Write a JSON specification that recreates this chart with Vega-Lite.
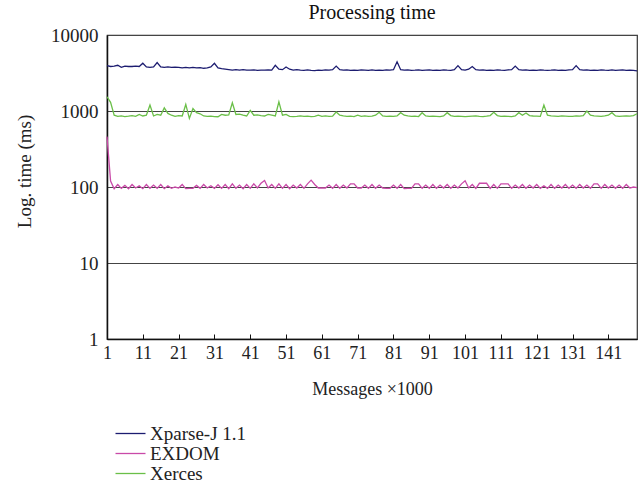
{
"$schema":"https://vega.github.io/schema/vega-lite/v6.json",
"autosize":{"type":"none"},
"width":530,"height":304,
"padding":{"left":107,"top":35,"right":4,"bottom":160},
"background":"white",
"config":{"font":"Liberation Serif","view":{"stroke":"#333","strokeWidth":1.2}},
"title":{"text":"Processing time","fontSize":20,"fontWeight":"normal","font":"Liberation Serif","color":"#111","offset":3,"anchor":"middle"},
"data":{"values":[
{"msg":1,"series":"Xparse-J 1.1","time":3950},{"msg":2,"series":"Xparse-J 1.1","time":3850},{"msg":3,"series":"Xparse-J 1.1","time":3900},{"msg":4,"series":"Xparse-J 1.1","time":4000},{"msg":5,"series":"Xparse-J 1.1","time":3750},{"msg":6,"series":"Xparse-J 1.1","time":3900},{"msg":7,"series":"Xparse-J 1.1","time":3850},{"msg":8,"series":"Xparse-J 1.1","time":3850},{"msg":9,"series":"Xparse-J 1.1","time":3900},{"msg":10,"series":"Xparse-J 1.1","time":3850},
{"msg":11,"series":"Xparse-J 1.1","time":4250},{"msg":12,"series":"Xparse-J 1.1","time":3800},{"msg":13,"series":"Xparse-J 1.1","time":3750},{"msg":14,"series":"Xparse-J 1.1","time":3800},{"msg":15,"series":"Xparse-J 1.1","time":4350},{"msg":16,"series":"Xparse-J 1.1","time":3800},{"msg":17,"series":"Xparse-J 1.1","time":3750},{"msg":18,"series":"Xparse-J 1.1","time":3800},{"msg":19,"series":"Xparse-J 1.1","time":3750},{"msg":20,"series":"Xparse-J 1.1","time":3780},
{"msg":21,"series":"Xparse-J 1.1","time":3750},{"msg":22,"series":"Xparse-J 1.1","time":3700},{"msg":23,"series":"Xparse-J 1.1","time":3750},{"msg":24,"series":"Xparse-J 1.1","time":3700},{"msg":25,"series":"Xparse-J 1.1","time":3750},{"msg":26,"series":"Xparse-J 1.1","time":3700},{"msg":27,"series":"Xparse-J 1.1","time":3720},{"msg":28,"series":"Xparse-J 1.1","time":3650},{"msg":29,"series":"Xparse-J 1.1","time":3700},{"msg":30,"series":"Xparse-J 1.1","time":3800},
{"msg":31,"series":"Xparse-J 1.1","time":4250},{"msg":32,"series":"Xparse-J 1.1","time":3700},{"msg":33,"series":"Xparse-J 1.1","time":3600},{"msg":34,"series":"Xparse-J 1.1","time":3550},{"msg":35,"series":"Xparse-J 1.1","time":3500},{"msg":36,"series":"Xparse-J 1.1","time":3450},{"msg":37,"series":"Xparse-J 1.1","time":3500},{"msg":38,"series":"Xparse-J 1.1","time":3450},{"msg":39,"series":"Xparse-J 1.1","time":3500},{"msg":40,"series":"Xparse-J 1.1","time":3450},
{"msg":41,"series":"Xparse-J 1.1","time":3450},{"msg":42,"series":"Xparse-J 1.1","time":3480},{"msg":43,"series":"Xparse-J 1.1","time":3430},{"msg":44,"series":"Xparse-J 1.1","time":3450},{"msg":45,"series":"Xparse-J 1.1","time":3450},{"msg":46,"series":"Xparse-J 1.1","time":3480},{"msg":47,"series":"Xparse-J 1.1","time":3450},{"msg":48,"series":"Xparse-J 1.1","time":4000},{"msg":49,"series":"Xparse-J 1.1","time":3550},{"msg":50,"series":"Xparse-J 1.1","time":3500},
{"msg":51,"series":"Xparse-J 1.1","time":3800},{"msg":52,"series":"Xparse-J 1.1","time":3550},{"msg":53,"series":"Xparse-J 1.1","time":3450},{"msg":54,"series":"Xparse-J 1.1","time":3500},{"msg":55,"series":"Xparse-J 1.1","time":3450},{"msg":56,"series":"Xparse-J 1.1","time":3420},{"msg":57,"series":"Xparse-J 1.1","time":3480},{"msg":58,"series":"Xparse-J 1.1","time":3430},{"msg":59,"series":"Xparse-J 1.1","time":3400},{"msg":60,"series":"Xparse-J 1.1","time":3450},
{"msg":61,"series":"Xparse-J 1.1","time":3420},{"msg":62,"series":"Xparse-J 1.1","time":3480},{"msg":63,"series":"Xparse-J 1.1","time":3450},{"msg":64,"series":"Xparse-J 1.1","time":3500},{"msg":65,"series":"Xparse-J 1.1","time":3900},{"msg":66,"series":"Xparse-J 1.1","time":3500},{"msg":67,"series":"Xparse-J 1.1","time":3450},{"msg":68,"series":"Xparse-J 1.1","time":3480},{"msg":69,"series":"Xparse-J 1.1","time":3430},{"msg":70,"series":"Xparse-J 1.1","time":3450},
{"msg":71,"series":"Xparse-J 1.1","time":3420},{"msg":72,"series":"Xparse-J 1.1","time":3480},{"msg":73,"series":"Xparse-J 1.1","time":3450},{"msg":74,"series":"Xparse-J 1.1","time":3420},{"msg":75,"series":"Xparse-J 1.1","time":3480},{"msg":76,"series":"Xparse-J 1.1","time":3430},{"msg":77,"series":"Xparse-J 1.1","time":3450},{"msg":78,"series":"Xparse-J 1.1","time":3420},{"msg":79,"series":"Xparse-J 1.1","time":3480},{"msg":80,"series":"Xparse-J 1.1","time":3450},
{"msg":81,"series":"Xparse-J 1.1","time":3500},{"msg":82,"series":"Xparse-J 1.1","time":4450},{"msg":83,"series":"Xparse-J 1.1","time":3500},{"msg":84,"series":"Xparse-J 1.1","time":3450},{"msg":85,"series":"Xparse-J 1.1","time":3480},{"msg":86,"series":"Xparse-J 1.1","time":3430},{"msg":87,"series":"Xparse-J 1.1","time":3450},{"msg":88,"series":"Xparse-J 1.1","time":3480},{"msg":89,"series":"Xparse-J 1.1","time":3420},{"msg":90,"series":"Xparse-J 1.1","time":3450},
{"msg":91,"series":"Xparse-J 1.1","time":3480},{"msg":92,"series":"Xparse-J 1.1","time":3430},{"msg":93,"series":"Xparse-J 1.1","time":3450},{"msg":94,"series":"Xparse-J 1.1","time":3420},{"msg":95,"series":"Xparse-J 1.1","time":3480},{"msg":96,"series":"Xparse-J 1.1","time":3450},{"msg":97,"series":"Xparse-J 1.1","time":3430},{"msg":98,"series":"Xparse-J 1.1","time":3500},{"msg":99,"series":"Xparse-J 1.1","time":3950},{"msg":100,"series":"Xparse-J 1.1","time":3500},
{"msg":101,"series":"Xparse-J 1.1","time":3450},{"msg":102,"series":"Xparse-J 1.1","time":3550},{"msg":103,"series":"Xparse-J 1.1","time":3850},{"msg":104,"series":"Xparse-J 1.1","time":3500},{"msg":105,"series":"Xparse-J 1.1","time":3450},{"msg":106,"series":"Xparse-J 1.1","time":3480},{"msg":107,"series":"Xparse-J 1.1","time":3430},{"msg":108,"series":"Xparse-J 1.1","time":3450},{"msg":109,"series":"Xparse-J 1.1","time":3420},{"msg":110,"series":"Xparse-J 1.1","time":3480},
{"msg":111,"series":"Xparse-J 1.1","time":3450},{"msg":112,"series":"Xparse-J 1.1","time":3430},{"msg":113,"series":"Xparse-J 1.1","time":3480},{"msg":114,"series":"Xparse-J 1.1","time":3500},{"msg":115,"series":"Xparse-J 1.1","time":3900},{"msg":116,"series":"Xparse-J 1.1","time":3500},{"msg":117,"series":"Xparse-J 1.1","time":3450},{"msg":118,"series":"Xparse-J 1.1","time":3480},{"msg":119,"series":"Xparse-J 1.1","time":3430},{"msg":120,"series":"Xparse-J 1.1","time":3450},
{"msg":121,"series":"Xparse-J 1.1","time":3420},{"msg":122,"series":"Xparse-J 1.1","time":3480},{"msg":123,"series":"Xparse-J 1.1","time":3450},{"msg":124,"series":"Xparse-J 1.1","time":3430},{"msg":125,"series":"Xparse-J 1.1","time":3450},{"msg":126,"series":"Xparse-J 1.1","time":3480},{"msg":127,"series":"Xparse-J 1.1","time":3420},{"msg":128,"series":"Xparse-J 1.1","time":3450},{"msg":129,"series":"Xparse-J 1.1","time":3430},{"msg":130,"series":"Xparse-J 1.1","time":3480},
{"msg":131,"series":"Xparse-J 1.1","time":3500},{"msg":132,"series":"Xparse-J 1.1","time":3950},{"msg":133,"series":"Xparse-J 1.1","time":3500},{"msg":134,"series":"Xparse-J 1.1","time":3450},{"msg":135,"series":"Xparse-J 1.1","time":3480},{"msg":136,"series":"Xparse-J 1.1","time":3430},{"msg":137,"series":"Xparse-J 1.1","time":3450},{"msg":138,"series":"Xparse-J 1.1","time":3420},{"msg":139,"series":"Xparse-J 1.1","time":3480},{"msg":140,"series":"Xparse-J 1.1","time":3450},
{"msg":141,"series":"Xparse-J 1.1","time":3430},{"msg":142,"series":"Xparse-J 1.1","time":3480},{"msg":143,"series":"Xparse-J 1.1","time":3420},{"msg":144,"series":"Xparse-J 1.1","time":3450},{"msg":145,"series":"Xparse-J 1.1","time":3480},{"msg":146,"series":"Xparse-J 1.1","time":3430},{"msg":147,"series":"Xparse-J 1.1","time":3450},{"msg":148,"series":"Xparse-J 1.1","time":3420},{"msg":149,"series":"Xparse-J 1.1","time":3380},
{"msg":1,"series":"EXDOM","time":460},{"msg":2,"series":"EXDOM","time":120},{"msg":3,"series":"EXDOM","time":95},{"msg":4,"series":"EXDOM","time":108},{"msg":5,"series":"EXDOM","time":96},{"msg":6,"series":"EXDOM","time":105},{"msg":7,"series":"EXDOM","time":95},{"msg":8,"series":"EXDOM","time":108},{"msg":9,"series":"EXDOM","time":97},{"msg":10,"series":"EXDOM","time":104},
{"msg":11,"series":"EXDOM","time":95},{"msg":12,"series":"EXDOM","time":108},{"msg":13,"series":"EXDOM","time":96},{"msg":14,"series":"EXDOM","time":106},{"msg":15,"series":"EXDOM","time":96},{"msg":16,"series":"EXDOM","time":108},{"msg":17,"series":"EXDOM","time":95},{"msg":18,"series":"EXDOM","time":104},{"msg":19,"series":"EXDOM","time":96},{"msg":20,"series":"EXDOM","time":100},
{"msg":21,"series":"EXDOM","time":97},{"msg":22,"series":"EXDOM","time":108},{"msg":23,"series":"EXDOM","time":95},{"msg":24,"series":"EXDOM","time":96},{"msg":25,"series":"EXDOM","time":96},{"msg":26,"series":"EXDOM","time":105},{"msg":27,"series":"EXDOM","time":96},{"msg":28,"series":"EXDOM","time":108},{"msg":29,"series":"EXDOM","time":97},{"msg":30,"series":"EXDOM","time":104},
{"msg":31,"series":"EXDOM","time":96},{"msg":32,"series":"EXDOM","time":107},{"msg":33,"series":"EXDOM","time":96},{"msg":34,"series":"EXDOM","time":108},{"msg":35,"series":"EXDOM","time":95},{"msg":36,"series":"EXDOM","time":110},{"msg":37,"series":"EXDOM","time":96},{"msg":38,"series":"EXDOM","time":106},{"msg":39,"series":"EXDOM","time":95},{"msg":40,"series":"EXDOM","time":108},
{"msg":41,"series":"EXDOM","time":96},{"msg":42,"series":"EXDOM","time":110},{"msg":43,"series":"EXDOM","time":97},{"msg":44,"series":"EXDOM","time":112},{"msg":45,"series":"EXDOM","time":122},{"msg":46,"series":"EXDOM","time":97},{"msg":47,"series":"EXDOM","time":108},{"msg":48,"series":"EXDOM","time":96},{"msg":49,"series":"EXDOM","time":110},{"msg":50,"series":"EXDOM","time":96},
{"msg":51,"series":"EXDOM","time":108},{"msg":52,"series":"EXDOM","time":95},{"msg":53,"series":"EXDOM","time":106},{"msg":54,"series":"EXDOM","time":97},{"msg":55,"series":"EXDOM","time":108},{"msg":56,"series":"EXDOM","time":96},{"msg":57,"series":"EXDOM","time":110},{"msg":58,"series":"EXDOM","time":123},{"msg":59,"series":"EXDOM","time":108},{"msg":60,"series":"EXDOM","time":97},
{"msg":61,"series":"EXDOM","time":97},{"msg":62,"series":"EXDOM","time":97},{"msg":63,"series":"EXDOM","time":106},{"msg":64,"series":"EXDOM","time":96},{"msg":65,"series":"EXDOM","time":108},{"msg":66,"series":"EXDOM","time":96},{"msg":67,"series":"EXDOM","time":106},{"msg":68,"series":"EXDOM","time":97},{"msg":69,"series":"EXDOM","time":110},{"msg":70,"series":"EXDOM","time":110},
{"msg":71,"series":"EXDOM","time":97},{"msg":72,"series":"EXDOM","time":97},{"msg":73,"series":"EXDOM","time":106},{"msg":74,"series":"EXDOM","time":96},{"msg":75,"series":"EXDOM","time":108},{"msg":76,"series":"EXDOM","time":96},{"msg":77,"series":"EXDOM","time":106},{"msg":78,"series":"EXDOM","time":97},{"msg":79,"series":"EXDOM","time":96},{"msg":80,"series":"EXDOM","time":96},
{"msg":81,"series":"EXDOM","time":106},{"msg":82,"series":"EXDOM","time":96},{"msg":83,"series":"EXDOM","time":108},{"msg":84,"series":"EXDOM","time":95},{"msg":85,"series":"EXDOM","time":96},{"msg":86,"series":"EXDOM","time":96},{"msg":87,"series":"EXDOM","time":110},{"msg":88,"series":"EXDOM","time":110},{"msg":89,"series":"EXDOM","time":96},{"msg":90,"series":"EXDOM","time":106},
{"msg":91,"series":"EXDOM","time":96},{"msg":92,"series":"EXDOM","time":108},{"msg":93,"series":"EXDOM","time":96},{"msg":94,"series":"EXDOM","time":106},{"msg":95,"series":"EXDOM","time":97},{"msg":96,"series":"EXDOM","time":108},{"msg":97,"series":"EXDOM","time":96},{"msg":98,"series":"EXDOM","time":106},{"msg":99,"series":"EXDOM","time":97},{"msg":100,"series":"EXDOM","time":110},
{"msg":101,"series":"EXDOM","time":121},{"msg":102,"series":"EXDOM","time":97},{"msg":103,"series":"EXDOM","time":108},{"msg":104,"series":"EXDOM","time":96},{"msg":105,"series":"EXDOM","time":112},{"msg":106,"series":"EXDOM","time":112},{"msg":107,"series":"EXDOM","time":112},{"msg":108,"series":"EXDOM","time":96},{"msg":109,"series":"EXDOM","time":108},{"msg":110,"series":"EXDOM","time":96},
{"msg":111,"series":"EXDOM","time":110},{"msg":112,"series":"EXDOM","time":110},{"msg":113,"series":"EXDOM","time":110},{"msg":114,"series":"EXDOM","time":96},{"msg":115,"series":"EXDOM","time":106},{"msg":116,"series":"EXDOM","time":97},{"msg":117,"series":"EXDOM","time":108},{"msg":118,"series":"EXDOM","time":96},{"msg":119,"series":"EXDOM","time":106},{"msg":120,"series":"EXDOM","time":97},
{"msg":121,"series":"EXDOM","time":108},{"msg":122,"series":"EXDOM","time":96},{"msg":123,"series":"EXDOM","time":104},{"msg":124,"series":"EXDOM","time":96},{"msg":125,"series":"EXDOM","time":108},{"msg":126,"series":"EXDOM","time":96},{"msg":127,"series":"EXDOM","time":106},{"msg":128,"series":"EXDOM","time":97},{"msg":129,"series":"EXDOM","time":108},{"msg":130,"series":"EXDOM","time":96},
{"msg":131,"series":"EXDOM","time":106},{"msg":132,"series":"EXDOM","time":96},{"msg":133,"series":"EXDOM","time":108},{"msg":134,"series":"EXDOM","time":97},{"msg":135,"series":"EXDOM","time":106},{"msg":136,"series":"EXDOM","time":96},{"msg":137,"series":"EXDOM","time":110},{"msg":138,"series":"EXDOM","time":110},{"msg":139,"series":"EXDOM","time":96},{"msg":140,"series":"EXDOM","time":108},
{"msg":141,"series":"EXDOM","time":97},{"msg":142,"series":"EXDOM","time":106},{"msg":143,"series":"EXDOM","time":96},{"msg":144,"series":"EXDOM","time":106},{"msg":145,"series":"EXDOM","time":96},{"msg":146,"series":"EXDOM","time":108},{"msg":147,"series":"EXDOM","time":97},{"msg":148,"series":"EXDOM","time":100},{"msg":149,"series":"EXDOM","time":98},
{"msg":1,"series":"Xerces","time":1540},{"msg":2,"series":"Xerces","time":1300},{"msg":3,"series":"Xerces","time":880},{"msg":4,"series":"Xerces","time":850},{"msg":5,"series":"Xerces","time":860},{"msg":6,"series":"Xerces","time":845},{"msg":7,"series":"Xerces","time":855},{"msg":8,"series":"Xerces","time":870},{"msg":9,"series":"Xerces","time":850},{"msg":10,"series":"Xerces","time":900},
{"msg":11,"series":"Xerces","time":860},{"msg":12,"series":"Xerces","time":880},{"msg":13,"series":"Xerces","time":1200},{"msg":14,"series":"Xerces","time":860},{"msg":15,"series":"Xerces","time":900},{"msg":16,"series":"Xerces","time":880},{"msg":17,"series":"Xerces","time":1100},{"msg":18,"series":"Xerces","time":930},{"msg":19,"series":"Xerces","time":880},{"msg":20,"series":"Xerces","time":850},
{"msg":21,"series":"Xerces","time":870},{"msg":22,"series":"Xerces","time":860},{"msg":23,"series":"Xerces","time":1220},{"msg":24,"series":"Xerces","time":800},{"msg":25,"series":"Xerces","time":1080},{"msg":26,"series":"Xerces","time":950},{"msg":27,"series":"Xerces","time":920},{"msg":28,"series":"Xerces","time":860},{"msg":29,"series":"Xerces","time":850},{"msg":30,"series":"Xerces","time":855},
{"msg":31,"series":"Xerces","time":845},{"msg":32,"series":"Xerces","time":840},{"msg":33,"series":"Xerces","time":900},{"msg":34,"series":"Xerces","time":880},{"msg":35,"series":"Xerces","time":890},{"msg":36,"series":"Xerces","time":1280},{"msg":37,"series":"Xerces","time":900},{"msg":38,"series":"Xerces","time":910},{"msg":39,"series":"Xerces","time":880},{"msg":40,"series":"Xerces","time":860},
{"msg":41,"series":"Xerces","time":1020},{"msg":42,"series":"Xerces","time":880},{"msg":43,"series":"Xerces","time":890},{"msg":44,"series":"Xerces","time":870},{"msg":45,"series":"Xerces","time":860},{"msg":46,"series":"Xerces","time":900},{"msg":47,"series":"Xerces","time":880},{"msg":48,"series":"Xerces","time":860},{"msg":49,"series":"Xerces","time":1320},{"msg":50,"series":"Xerces","time":880},
{"msg":51,"series":"Xerces","time":900},{"msg":52,"series":"Xerces","time":850},{"msg":53,"series":"Xerces","time":845},{"msg":54,"series":"Xerces","time":850},{"msg":55,"series":"Xerces","time":860},{"msg":56,"series":"Xerces","time":850},{"msg":57,"series":"Xerces","time":855},{"msg":58,"series":"Xerces","time":845},{"msg":59,"series":"Xerces","time":850},{"msg":60,"series":"Xerces","time":880},
{"msg":61,"series":"Xerces","time":850},{"msg":62,"series":"Xerces","time":860},{"msg":63,"series":"Xerces","time":850},{"msg":64,"series":"Xerces","time":855},{"msg":65,"series":"Xerces","time":970},{"msg":66,"series":"Xerces","time":880},{"msg":67,"series":"Xerces","time":860},{"msg":68,"series":"Xerces","time":850},{"msg":69,"series":"Xerces","time":855},{"msg":70,"series":"Xerces","time":845},
{"msg":71,"series":"Xerces","time":880},{"msg":72,"series":"Xerces","time":850},{"msg":73,"series":"Xerces","time":860},{"msg":74,"series":"Xerces","time":850},{"msg":75,"series":"Xerces","time":855},{"msg":76,"series":"Xerces","time":880},{"msg":77,"series":"Xerces","time":960},{"msg":78,"series":"Xerces","time":860},{"msg":79,"series":"Xerces","time":850},{"msg":80,"series":"Xerces","time":855},
{"msg":81,"series":"Xerces","time":850},{"msg":82,"series":"Xerces","time":860},{"msg":83,"series":"Xerces","time":950},{"msg":84,"series":"Xerces","time":880},{"msg":85,"series":"Xerces","time":860},{"msg":86,"series":"Xerces","time":850},{"msg":87,"series":"Xerces","time":855},{"msg":88,"series":"Xerces","time":845},{"msg":89,"series":"Xerces","time":950},{"msg":90,"series":"Xerces","time":860},
{"msg":91,"series":"Xerces","time":850},{"msg":92,"series":"Xerces","time":855},{"msg":93,"series":"Xerces","time":850},{"msg":94,"series":"Xerces","time":845},{"msg":95,"series":"Xerces","time":860},{"msg":96,"series":"Xerces","time":950},{"msg":97,"series":"Xerces","time":870},{"msg":98,"series":"Xerces","time":850},{"msg":99,"series":"Xerces","time":855},{"msg":100,"series":"Xerces","time":850},
{"msg":101,"series":"Xerces","time":845},{"msg":102,"series":"Xerces","time":850},{"msg":103,"series":"Xerces","time":855},{"msg":104,"series":"Xerces","time":860},{"msg":105,"series":"Xerces","time":850},{"msg":106,"series":"Xerces","time":845},{"msg":107,"series":"Xerces","time":855},{"msg":108,"series":"Xerces","time":870},{"msg":109,"series":"Xerces","time":960},{"msg":110,"series":"Xerces","time":870},
{"msg":111,"series":"Xerces","time":850},{"msg":112,"series":"Xerces","time":855},{"msg":113,"series":"Xerces","time":850},{"msg":114,"series":"Xerces","time":845},{"msg":115,"series":"Xerces","time":860},{"msg":116,"series":"Xerces","time":950},{"msg":117,"series":"Xerces","time":880},{"msg":118,"series":"Xerces","time":940},{"msg":119,"series":"Xerces","time":870},{"msg":120,"series":"Xerces","time":860},
{"msg":121,"series":"Xerces","time":855},{"msg":122,"series":"Xerces","time":850},{"msg":123,"series":"Xerces","time":1200},{"msg":124,"series":"Xerces","time":880},{"msg":125,"series":"Xerces","time":860},{"msg":126,"series":"Xerces","time":855},{"msg":127,"series":"Xerces","time":850},{"msg":128,"series":"Xerces","time":860},{"msg":129,"series":"Xerces","time":855},{"msg":130,"series":"Xerces","time":850},
{"msg":131,"series":"Xerces","time":850},{"msg":132,"series":"Xerces","time":860},{"msg":133,"series":"Xerces","time":855},{"msg":134,"series":"Xerces","time":870},{"msg":135,"series":"Xerces","time":1000},{"msg":136,"series":"Xerces","time":880},{"msg":137,"series":"Xerces","time":860},{"msg":138,"series":"Xerces","time":855},{"msg":139,"series":"Xerces","time":850},{"msg":140,"series":"Xerces","time":860},
{"msg":141,"series":"Xerces","time":880},{"msg":142,"series":"Xerces","time":950},{"msg":143,"series":"Xerces","time":860},{"msg":144,"series":"Xerces","time":850},{"msg":145,"series":"Xerces","time":855},{"msg":146,"series":"Xerces","time":860},{"msg":147,"series":"Xerces","time":855},{"msg":148,"series":"Xerces","time":870},{"msg":149,"series":"Xerces","time":920}
]},
"mark":{"type":"line","strokeWidth":1.3},
"encoding":{
"x":{"field":"msg","type":"quantitative","scale":{"domain":[1,149],"nice":false,"zero":false},
 "axis":{"values":[1,11,21,31,41,51,61,71,81,91,101,111,121,131,141],"title":"Messages ×1000","grid":false,"tickSize":-5,"tickColor":"#111","domainColor":"#111","domainWidth":1.5,"labelFont":"Liberation Serif","labelFontSize":18,"labelColor":"#222","labelPadding":10,"labelFlush":false,"titleFont":"Liberation Serif","titleFontSize":18,"titleFontWeight":"normal","titleColor":"#222","titleY":50,"titleBaseline":"middle"}},
"y":{"field":"time","type":"quantitative","scale":{"type":"log","domain":[1,10000],"nice":false},
 "axis":{"values":[1,10,100,1000,10000],"format":"d","title":"Log. time (ms)","grid":true,"gridColor":"#444","gridWidth":1.2,"gridOpacity":1,"ticks":false,"domainColor":"#111","domainWidth":1.5,"labelFont":"Liberation Serif","labelFontSize":19,"labelColor":"#222","labelPadding":9,"titleFont":"Liberation Serif","titleFontSize":19,"titleFontWeight":"normal","titleColor":"#222","titleX":-83,"titleY":136,"titleAngle":-90,"titleAlign":"center","titleBaseline":"middle"}},
"color":{"field":"series","type":"nominal","sort":null,
 "scale":{"domain":["Xparse-J 1.1","EXDOM","Xerces"],"range":["#1c1c70","#c94aa8","#6abf48"]},
 "legend":{"orient":"none","legendX":14,"legendY":389,"title":null,"padding":0,"symbolType":"M-2.5,0H2.5","symbolSize":144,"symbolStrokeWidth":1.3,"labelFont":"Liberation Serif","labelFontSize":19,"labelColor":"#222","labelOffset":10,"rowPadding":0}}
}
}
